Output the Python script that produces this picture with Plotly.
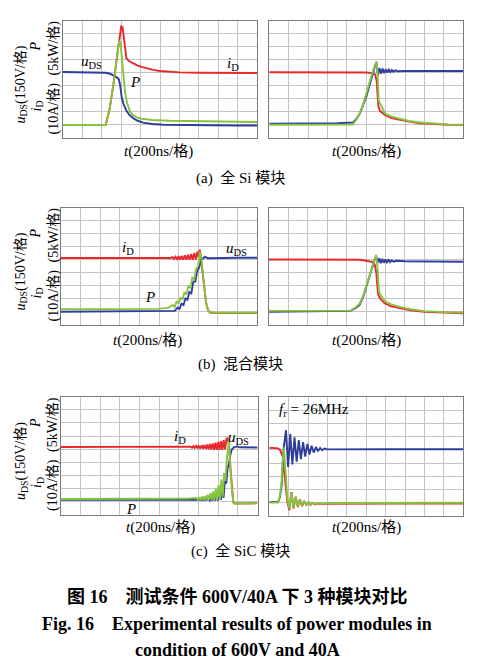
import plotly.graph_objects as go

W, H = 479, 664

# ---------------- data: oscilloscope readings (x: divisions of 200 ns, y: divisions, ground = 1) ----------------
# (a) full Si - turn-on
a1u_t = [0, 1.9, 2.2, 2.42, 2.6, 2.77, 2.88, 2.95, 3.02, 3.12, 3.25, 3.4, 3.6, 3.85, 4.13, 4.6, 5.2, 6, 7, 8, 9, 10]
a1u_v = [5.05, 5.05, 5.0, 4.92, 4.8, 4.65, 4.5, 4.0, 3.18, 2.6, 2.15, 1.8, 1.53, 1.32, 1.18, 1.07, 1.02, 1.0, 0.98, 0.97, 0.96, 0.96]
a1i_t = [0, 2.2, 2.4, 2.6, 2.8, 2.93, 3.0, 3.07, 3.13, 3.2, 3.27, 3.4, 3.6, 3.8, 4.0, 4.3, 4.64, 5.0, 5.4, 6, 7, 8, 9, 10]
a1i_v = [1.0, 1.0, 2.2, 4.1, 6.4, 8.0, 8.55, 8.5, 7.8, 6.6, 6.1, 5.9, 5.72, 5.58, 5.47, 5.33, 5.22, 5.13, 5.07, 5.03, 5.0, 4.98, 4.98, 4.98]
a1p_t = [0, 2.2, 2.4, 2.6, 2.8, 2.9, 2.97, 3.05, 3.12, 3.2, 3.3, 3.45, 3.6, 3.85, 4.13, 4.6, 5.5, 7, 8.5, 10]
a1p_v = [1.0, 1.0, 2.2, 4.1, 6.4, 7.46, 7.2, 5.8, 4.6, 3.5, 2.7, 2.05, 1.75, 1.55, 1.45, 1.38, 1.32, 1.27, 1.24, 1.22]

# (a) full Si - turn-off
a2i_t = [0, 4.0, 5.0, 5.3, 5.45, 5.53, 5.58, 5.62, 5.7, 5.8, 5.96, 6.3, 6.74, 7.2, 7.77, 8.5, 9.2, 10]
a2i_v = [5.02, 5.02, 5.0, 4.95, 4.85, 4.4, 3.3, 2.4, 2.05, 1.9, 1.73, 1.5, 1.35, 1.22, 1.1, 1.02, 0.98, 0.96]
a2u_t = [0, 2, 3.5, 4.3, 4.5, 4.67, 4.85, 5.0, 5.2, 5.36, 5.47, 5.53, 5.6, 5.68, 5.76, 5.84, 5.92, 6.0, 6.08, 6.16, 6.24, 6.32, 6.4, 6.5, 6.6, 7, 8, 9, 10]
a2u_v = [1.07, 1.08, 1.1, 1.15, 1.45, 1.86, 2.5, 3.14, 4.2, 5.06, 5.6, 5.72, 4.8, 5.35, 4.9, 5.3, 4.95, 5.25, 5.0, 5.22, 5.03, 5.19, 5.06, 5.16, 5.1, 5.12, 5.12, 5.13, 5.12]
a2p_t = [0, 4.3, 4.5, 4.67, 4.85, 5.0, 5.2, 5.36, 5.47, 5.53, 5.57, 5.6, 5.64, 5.7, 5.76, 5.85, 5.96, 6.3, 6.74, 7.2, 7.77, 8.5, 9.2, 10]
a2p_v = [0.98, 1.0, 1.4, 1.9, 2.6, 3.3, 4.4, 5.2, 5.75, 5.85, 5.2, 3.4, 2.8, 2.65, 2.45, 2.1, 1.85, 1.6, 1.42, 1.27, 1.15, 1.05, 1.0, 0.98]

# (b) hybrid - turn-on
b1i_t = [0, 3, 5.0, 5.4, 5.6, 5.68, 5.76, 5.84, 5.92, 6.0, 6.08, 6.16, 6.24, 6.32, 6.4, 6.48, 6.56, 6.64, 6.72, 6.8, 6.88, 6.96, 7.02, 7.08, 7.14, 7.22, 7.3, 7.4, 7.5, 7.6, 7.8, 8.5, 10]
b1i_v = [5.12, 5.12, 5.1, 5.08, 5.12, 5.2, 5.05, 5.22, 5.03, 5.25, 5.0, 5.28, 4.98, 5.32, 4.98, 5.36, 4.98, 5.42, 4.98, 5.5, 5.0, 5.6, 5.2, 5.75, 5.2, 4.0, 2.7, 1.7, 1.1, 0.92, 0.88, 0.88, 0.88]
b1u_t = [0, 5.0, 5.8, 5.95, 6.05, 6.15, 6.25, 6.35, 6.45, 6.55, 6.65, 6.75, 6.85, 6.95, 7.05, 7.15, 7.25, 7.35, 7.5, 8, 9, 10]
b1u_v = [0.98, 1.0, 1.05, 1.3, 1.2, 1.6, 1.5, 2.0, 1.9, 2.5, 2.4, 3.3, 3.3, 4.1, 4.4, 5.0, 5.1, 5.2, 5.1, 5.12, 5.14, 5.14]
b1p_t = [0, 5.0, 5.5, 5.7, 5.8, 5.9, 6.0, 6.1, 6.2, 6.3, 6.4, 6.5, 6.6, 6.7, 6.8, 6.9, 7.0, 7.08, 7.14, 7.22, 7.3, 7.4, 7.5, 7.6, 8, 10]
b1p_v = [1.17, 1.2, 1.3, 1.5, 1.35, 1.8, 1.6, 2.1, 1.9, 2.5, 2.3, 3.0, 2.8, 3.6, 3.5, 4.3, 4.5, 5.6, 5.3, 4.0, 2.7, 1.7, 1.1, 0.92, 0.9, 0.9]

# (b) hybrid - turn-off
b2i_t = [0, 3.0, 4.7, 5.0, 5.35, 5.45, 5.53, 5.58, 5.63, 5.75, 5.96, 6.3, 6.74, 7.3, 8, 9, 10]
b2i_v = [5.0, 5.0, 4.98, 4.9, 4.8, 4.6, 4.0, 3.0, 2.3, 1.95, 1.63, 1.4, 1.25, 1.1, 0.98, 0.9, 0.86]
b2u_t = [0, 3.5, 4.2, 4.45, 4.67, 4.85, 5.0, 5.2, 5.36, 5.46, 5.53, 5.6, 5.68, 5.76, 5.84, 5.92, 6.0, 6.08, 6.16, 6.24, 6.32, 6.42, 6.55, 7, 8, 9, 10]
b2u_v = [0.98, 1.0, 1.05, 1.25, 1.5, 2.1, 2.78, 3.8, 4.58, 5.05, 5.22, 4.75, 5.1, 4.72, 5.05, 4.75, 5.0, 4.78, 4.97, 4.8, 4.94, 4.83, 4.9, 4.87, 4.86, 4.85, 4.83]
b2p_t = [0, 4.2, 4.45, 4.67, 4.85, 5.0, 5.2, 5.36, 5.46, 5.52, 5.57, 5.62, 5.67, 5.75, 5.85, 5.96, 6.3, 6.74, 7.3, 8, 9, 10]
b2p_v = [1.05, 1.07, 1.3, 1.6, 2.2, 2.9, 3.95, 4.7, 5.2, 5.35, 4.8, 3.0, 2.5, 2.25, 2.05, 1.8, 1.55, 1.35, 1.17, 1.03, 0.95, 0.92]

# (c) full SiC - turn-on
c1i_t = [0, 5.0, 5.5, 6.0, 6.6, 6.67, 6.74, 6.81, 6.88, 6.95, 7.02, 7.09, 7.16, 7.23, 7.3, 7.37, 7.44, 7.51, 7.58, 7.65, 7.72, 7.79, 7.86, 7.93, 8.0, 8.07, 8.14, 8.21, 8.28, 8.35, 8.42, 8.48, 8.55, 8.62, 8.7, 8.77, 8.85, 9.2, 10]
c1i_v = [5.17, 5.15, 5.18, 5.16, 5.2, 5.12, 5.24, 5.1, 5.26, 5.08, 5.28, 5.06, 5.3, 5.04, 5.33, 5.02, 5.36, 5.0, 5.4, 4.98, 5.45, 4.96, 5.5, 4.95, 5.56, 4.95, 5.62, 4.96, 5.7, 5.0, 5.8, 5.85, 5.3, 3.6, 1.8, 0.95, 0.88, 0.9, 0.9]
c1u_t = [0, 7.4, 7.5, 7.57, 7.64, 7.71, 7.78, 7.85, 7.92, 7.99, 8.06, 8.13, 8.2, 8.27, 8.34, 8.41, 8.48, 8.55, 8.62, 8.7, 8.8, 8.95, 9.1, 10]
c1u_v = [1.15, 1.15, 1.25, 1.1, 1.3, 1.1, 1.4, 1.1, 1.55, 1.1, 1.75, 1.15, 2.1, 1.3, 2.6, 2.4, 3.6, 3.9, 4.6, 5.0, 5.15, 5.22, 5.15, 5.13]
c1p_t = [0, 6.0, 6.5, 6.9, 6.97, 7.04, 7.11, 7.18, 7.25, 7.32, 7.39, 7.46, 7.53, 7.6, 7.67, 7.74, 7.81, 7.88, 7.95, 8.02, 8.09, 8.16, 8.23, 8.3, 8.37, 8.44, 8.5, 8.55, 8.6, 8.68, 8.77, 8.85, 10]
c1p_v = [1.22, 1.22, 1.25, 1.3, 1.15, 1.35, 1.15, 1.4, 1.15, 1.45, 1.15, 1.55, 1.15, 1.65, 1.15, 1.8, 1.15, 2.0, 1.15, 2.3, 1.2, 2.7, 1.4, 3.2, 2.6, 4.3, 5.4, 5.7, 4.2, 2.2, 0.95, 0.88, 0.9]

# (c) full SiC - turn-off
c2i_t = [0, 0.3, 0.45, 0.55, 0.63, 0.69, 0.75, 0.81, 0.87, 0.93, 1.03, 1.14, 1.25, 1.36, 1.47, 1.58, 1.69, 1.8, 1.91, 2.02, 2.13, 2.24, 2.35, 2.5, 2.8, 4, 7, 10]
c2i_v = [5.17, 5.17, 5.12, 5.0, 4.75, 4.5, 3.6, 2.6, 1.7, 1.06, 0.43, 1.8, 0.55, 1.45, 0.65, 1.25, 0.72, 1.12, 0.78, 1.03, 0.82, 0.98, 0.86, 0.93, 0.9, 0.92, 0.93, 0.93]
c2u_t = [0, 0.45, 0.55, 0.64, 0.72, 0.79, 0.86, 0.97, 1.08, 1.19, 1.3, 1.41, 1.52, 1.63, 1.74, 1.85, 1.96, 2.07, 2.18, 2.29, 2.4, 2.51, 2.62, 2.73, 2.84, 3.0, 4, 6, 8, 10]
c2u_v = [1.05, 1.05, 1.4, 2.33, 4.87, 6.0, 6.5, 3.7, 6.2, 3.9, 5.95, 4.1, 5.75, 4.3, 5.6, 4.5, 5.45, 4.65, 5.32, 4.8, 5.22, 4.9, 5.15, 4.97, 5.1, 5.04, 5.06, 5.05, 5.05, 5.05]
c2p_t = [0, 0.45, 0.55, 0.62, 0.68, 0.74, 0.8, 0.87, 0.93, 1.03, 1.14, 1.25, 1.36, 1.47, 1.58, 1.69, 1.8, 1.91, 2.02, 2.13, 2.24, 2.35, 2.6, 4, 7, 10]
c2p_v = [1.0, 1.0, 1.5, 2.4, 3.8, 5.2, 4.2, 2.2, 1.3, 0.55, 1.75, 0.6, 1.4, 0.7, 1.22, 0.78, 1.1, 0.82, 1.02, 0.87, 0.98, 0.9, 0.95, 0.96, 0.97, 0.98]

x_divs = [0, 10]
y_divs = [0, 9]

# ---------------- styling ----------------
RED = "#e8282b"
BLUE = "#2e3d9c"
GREEN = "#86c440"
GND = "#2fae3a"
SERIF = "Liberation Serif, Times New Roman, Noto Sans CJK SC, serif"

def px_x(p):
    return p / W

def px_y(p):
    return 1 - p / H

panels = [
    ((63, 257, 20.5, 138), (a1u_t, a1u_v), (a1i_t, a1i_v), (a1p_t, a1p_v)),
    ((269.3, 463.3, 20.5, 137.5), (a2u_t, a2u_v), (a2i_t, a2i_v), (a2p_t, a2p_v)),
    ((61, 257, 207.5, 324.5), (b1u_t, b1u_v), (b1i_t, b1i_v), (b1p_t, b1p_v)),
    ((269, 463, 207.5, 324.5), (b2u_t, b2u_v), (b2i_t, b2i_v), (b2p_t, b2p_v)),
    ((61, 257.5, 396.7, 515), (c1u_t, c1u_v), (c1i_t, c1i_v), (c1p_t, c1p_v)),
    ((269.3, 463.3, 397.3, 515.7), (c2u_t, c2u_v), (c2i_t, c2i_v), (c2p_t, c2p_v)),
]

fig = go.Figure()
layout = dict(width=W, height=H, margin=dict(l=0, r=0, t=0, b=0),
              paper_bgcolor="white", plot_bgcolor="white", showlegend=False)

for k, (box, u, i, p) in enumerate(panels):
    n = "" if k == 0 else str(k + 1)
    l, r, t, b = box
    common = dict(showticklabels=False, ticks="", showgrid=True, dtick=1, tick0=0,
                  gridcolor="#c4c4c4", gridwidth=1, zeroline=False,
                  showline=True, mirror=True, linecolor="#7a7a7a", linewidth=1.2,
                  fixedrange=True)
    layout["xaxis" + n] = dict(domain=[px_x(l), px_x(r)], range=x_divs, anchor="y" + n, **common)
    layout["yaxis" + n] = dict(domain=[px_y(b), px_y(t)], range=y_divs, anchor="x" + n, **common)
    for (tx, ty), col in ((i, RED), (u, BLUE), (p, GREEN)):
        fig.add_trace(go.Scatter(x=tx, y=ty, mode="lines", xaxis="x" + n, yaxis="y" + n,
                                 line=dict(color=col, width=1.9), hoverinfo="skip"))

# ground reference markers
fig.add_trace(go.Scatter(x=[-0.17], y=[1.0], mode="markers", xaxis="x", yaxis="y", cliponaxis=False,
                         marker=dict(symbol="triangle-right", size=9, color=GND)))
fig.add_trace(go.Scatter(x=[10.17], y=[0.97], mode="markers", xaxis="x3", yaxis="y3", cliponaxis=False,
                         marker=dict(symbol="triangle-left", size=9, color=GND)))
fig.add_trace(go.Scatter(x=[10.17], y=[0.95], mode="markers", xaxis="x5", yaxis="y5", cliponaxis=False,
                         marker=dict(symbol="triangle-left", size=9, color=GND)))

ann = []

def text(px, py, s, size=14, angle=0, xa="center", ya="middle", family=SERIF, color="black"):
    ann.append(dict(x=px_x(px), y=px_y(py), xref="paper", yref="paper", text=s, showarrow=False,
                    font=dict(family=family, size=size, color=color), textangle=angle,
                    xanchor=xa, yanchor=ya))

U = "<i>u</i><sub>DS</sub>"
I = "<i>i</i><sub>D</sub>"
Pp = "<i>P</i>"

# curve labels
text(91, 62, U, 15); text(135, 82, Pp, 15); text(233, 64, I, 15)
text(128, 248, I, 15); text(236, 249, U, 15); text(150, 297, Pp, 15)
text(180, 437, I, 15); text(238, 438, U, 15); text(131, 509, Pp, 15)
text(277, 410, "<i>f</i><sub>r</sub> = 26MHz", 15, xa="left")

# y-axis labels (rotated)
for top in (20.5, 207.5, 397):
    text(21, top + 64, U + "(150V/格)", 14, angle=-90)
    text(35, top + 26, Pp, 14, angle=-90)
    text(37, top + 86, I, 14, angle=-90)
    text(53, top + 88, "(10A/格)", 14, angle=-90)
    text(53, top + 28, "(5kW/格)", 14, angle=-90)

# x-axis labels
for cx, cy in ((158, 152), (366, 152), (147, 340), (366, 340), (160, 527), (366, 527)):
    text(cx, cy, "<i>t</i>(200ns/格)", 15)

# sub-captions
text(240, 178, "(a)  全 Si 模块", 15)
text(240, 365, "(b)  混合模块", 15)
text(240, 551, "(c)  全 SiC 模块", 15)

# figure caption
text(237, 597, "<b>图 16    测试条件 600V/40A 下 3 种模块对比</b>", 18)
text(237, 624, "<b>Fig. 16    Experimental results of power modules in</b>", 18)
text(237, 650, "<b>condition of 600V and 40A</b>", 18)

layout["annotations"] = ann
fig.update_layout(**layout)
fig.write_html("out.html", config={"displayModeBar": False},
               post_script="document.body.style.margin='0';document.body.style.padding='0';"
                           "document.body.style.overflow='hidden';")
